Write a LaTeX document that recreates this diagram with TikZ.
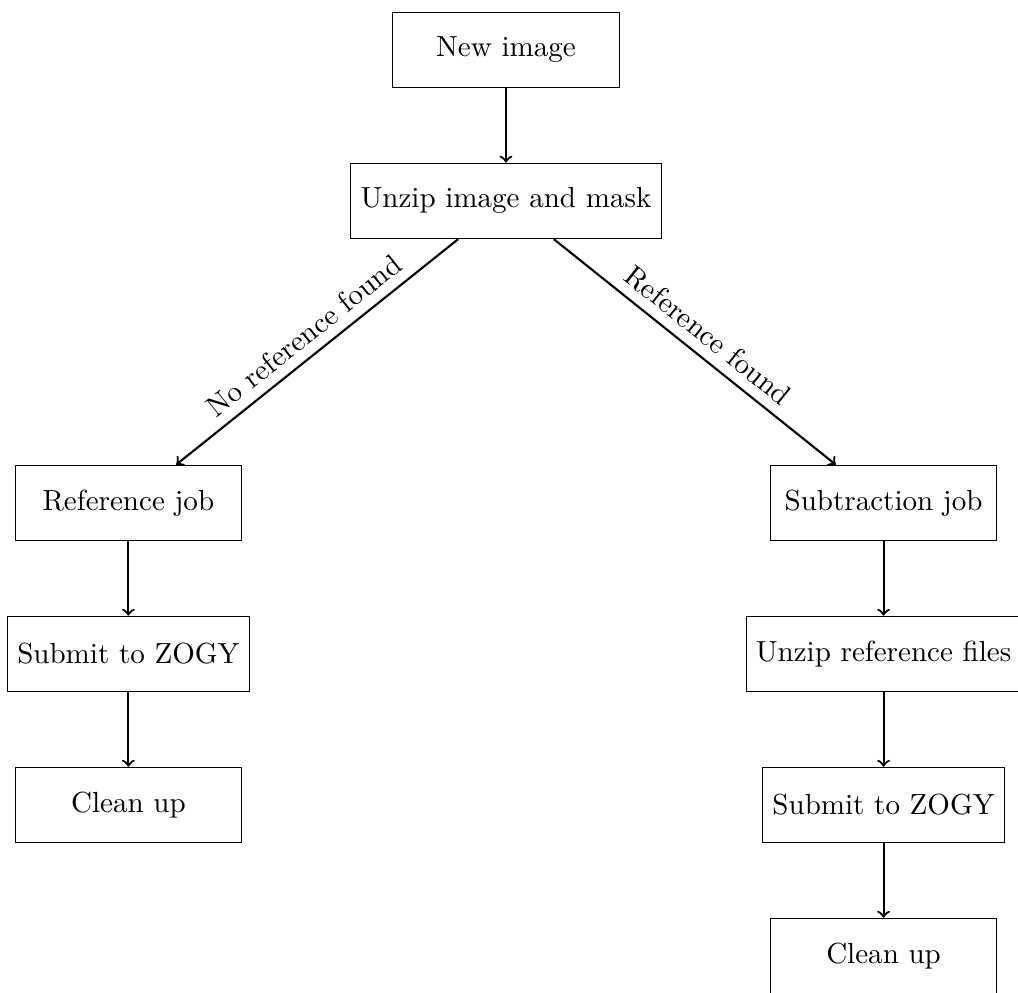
\documentclass[tikz,border=0pt,11pt]{standalone}
\usepackage{tikz}

\begin{document}
\begin{tikzpicture}[
		box/.style={draw, rectangle, minimum width=3cm, minimum height=1cm},
		flow/.style={->, thick}
	]
	\useasboundingbox (-6.70, 0.66) rectangle (6.78, -12.48);

	\node[box] (new) at (0, 0) {New image};
	\node[box] (unzip) at (0, -2) {Unzip image and mask};

	% No reference branch
	\node[box] (refjob) at (-5, -6) {Reference job};
	\node[box] (zogyA) at (-5, -8) {Submit to ZOGY};
	\node[box] (cleanA) at (-5, -10) {Clean up};

	% Reference branch
	\node[box] (subjob) at (5, -6) {Subtraction job};
	\node[box] (unzipref) at (5, -8) {Unzip reference files};
	\node[box] (zogyB) at (5, -10) {Submit to ZOGY};
	\node[box] (cleanB) at (5, -12) {Clean up};

	\draw[flow] (new) -- (unzip);
	\draw[flow] (unzip) -- (refjob) node[midway, above, sloped] {No reference found};
	\draw[flow] (unzip) -- (subjob) node[midway, above, sloped] {Reference found};

	\draw[flow] (refjob) -- (zogyA);
	\draw[flow] (zogyA) -- (cleanA);

	\draw[flow] (subjob) -- (unzipref);
	\draw[flow] (unzipref) -- (zogyB);
	\draw[flow] (zogyB) -- (cleanB);
\end{tikzpicture}
\end{document}
